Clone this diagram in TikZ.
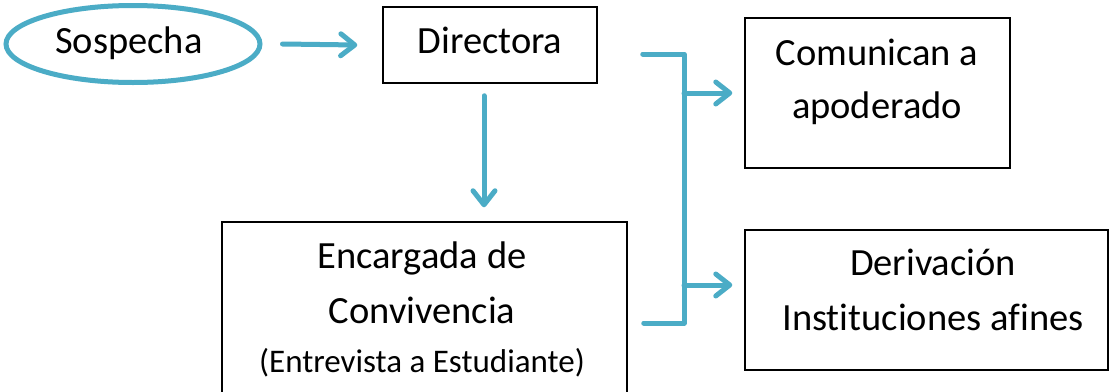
\documentclass[tikz,border=0pt]{standalone}
\usepackage{fontspec}
\setmainfont[Ligatures=NoCommon]{Carlito}
\usetikzlibrary{arrows.meta,shapes.geometric}
\definecolor{ac}{HTML}{4BACC6}
\tikzset{
  boxnode/.style={draw=black,line width=1.5pt,rectangle,inner sep=0pt},
  big/.style={font=\fontsize{38.5}{53}\selectfont,inner sep=0pt,anchor=base},
  small/.style={font=\fontsize{33}{40}\selectfont,inner sep=0pt,anchor=base},
  conn/.style={draw=ac,line width=5pt,line cap=round,line join=round},
  arr/.style={conn,-{Straight Barb[length=14pt,width=22pt,line cap=round,line join=round]}}
}
\begin{document}
\begin{tikzpicture}[x=1pt,y=-1pt]
\useasboundingbox[fill=white] (0,0) rectangle (1110,391);
% shapes
\node[ellipse,draw=ac,line width=5pt,minimum width=254pt,minimum height=77pt,inner sep=0pt] (sos) at (133,44) {};
\node[boxnode,minimum width=214pt,minimum height=76pt] (dir) at (490,45) {};
\node[boxnode,minimum width=265pt,minimum height=150pt] (com) at (877.5,93) {};
\node[boxnode,minimum width=363pt,minimum height=140pt] (der) at (926.5,300) {};
\node[boxnode,minimum width=405pt,minimum height=180pt] (enc) at (424.5,312) {};
% texts
\node[big] (tsos) at (129,53) {Sospecha};
\node[big] (tdir) at (490,53) {Directora};
\node[big] (tcom1) at (877,65) {Comunican a};
\node[big] (tcom2) at (877,118) {apoderado};
\node[big] (tenc1) at (422,268) {Encargada de};
\node[big] (tenc2) at (422,323) {Convivencia};
\node[small] (tenc3) at (422,372) {(Entrevista a Estudiante)};
\node[big] (tder1) at (933,275) {Derivación};
\node[big] (tder2) at (933,330) {Instituciones afines};
% connectors
\draw[arr] ([xshift=20pt]sos.east) -- ([xshift=-25pt]dir.west);
\draw[arr] ([xshift=-6pt,yshift=-12pt]dir.south) -- ([xshift=-6pt,yshift=14pt]dir.south |- enc.north);
\coordinate (bt) at ([xshift=45pt,yshift=-9pt]dir.east);
\coordinate (bb) at ([xshift=16pt,yshift=-11pt]enc.east);
\coordinate (bx) at (684,0);
\draw[conn] (bt) -- (bt -| bx) -- (bb -| bx) -- (bb);
\draw[arr] (com.west -| bx) -- ([xshift=-12pt]com.west);
\coordinate (dj) at ([yshift=15pt]der.west);
\draw[arr] (dj -| bx) -- ([xshift=-12pt]dj);
\end{tikzpicture}
\end{document}
